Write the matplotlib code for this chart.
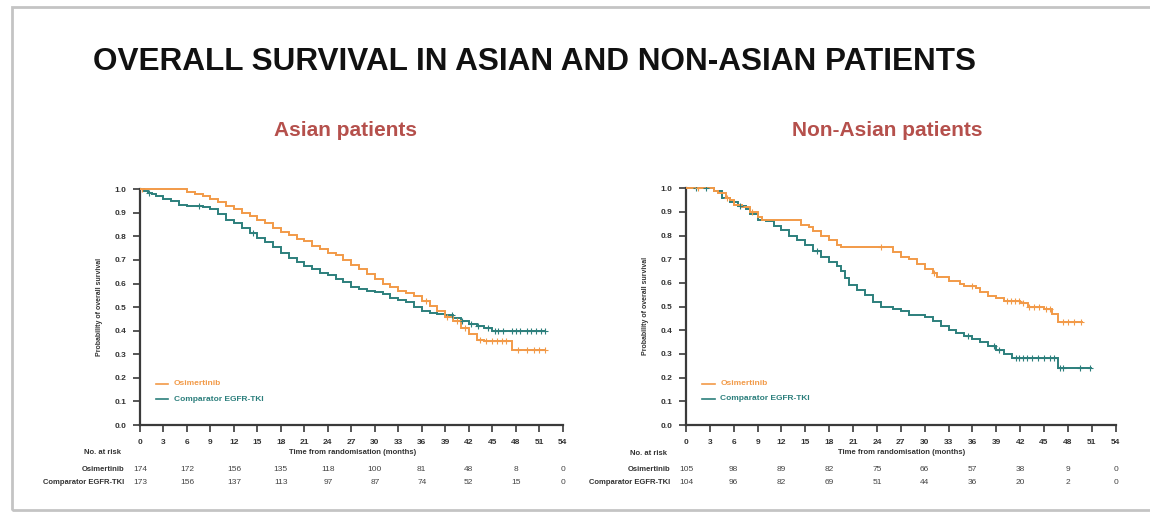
import numpy as np
import matplotlib
matplotlib.use("Agg")
import matplotlib.pyplot as plt
from matplotlib.patches import Rectangle
from matplotlib.transforms import blended_transform_factory

plt.rcParams['font.family'] = ['Liberation Sans', 'DejaVu Sans']

# ---------------- data ----------------
title = "OVERALL SURVIVAL IN ASIAN AND NON-ASIAN PATIENTS"
panel_titles = ["Asian patients", "Non-Asian patients"]
series_names = ["Osimertinib", "Comparator EGFR-TKI"]
x_ticks = list(range(0, 55, 3))
risk_months = [0, 6, 12, 18, 24, 30, 36, 42, 48, 54]

# Asian patients
asian_osi_t = [0, 6, 7, 8, 9, 10, 11, 12, 13, 14, 15, 16, 17, 18, 19, 20, 21, 22, 23, 24,
               25, 26, 27, 28, 29, 30, 31, 32, 33, 34, 35, 36, 37, 38, 39, 40, 41, 42, 43, 44, 47.5]
asian_osi_s = [1.0, 0.99, 0.98, 0.97, 0.96, 0.945, 0.93, 0.915, 0.90, 0.885, 0.87, 0.855, 0.835,
               0.82, 0.805, 0.79, 0.78, 0.76, 0.745, 0.73, 0.72, 0.70, 0.68, 0.66, 0.64, 0.62,
               0.60, 0.585, 0.57, 0.56, 0.545, 0.525, 0.505, 0.485, 0.46, 0.44, 0.41, 0.385,
               0.36, 0.355, 0.316]
asian_osi_c = [0.3, 36.5, 39.2, 40.5, 41.5, 43.5, 44.2, 45.0, 45.6, 46.2, 46.8, 48.3, 49.4, 50.3, 51.0, 51.7]

asian_cmp_t = [0, 0.5, 1, 1.5, 2, 3, 4, 5, 6, 8, 9, 10, 11, 12, 13, 14, 15, 16, 17, 18, 19, 20,
               21, 22, 23, 24, 25, 26, 27, 28, 29, 30, 31, 32, 33, 34, 35, 36, 37, 38, 39, 40,
               41, 42, 43, 44, 45]
asian_cmp_s = [1.0, 0.994, 0.985, 0.978, 0.97, 0.96, 0.948, 0.935, 0.93, 0.925, 0.915, 0.895,
               0.87, 0.855, 0.835, 0.815, 0.795, 0.775, 0.755, 0.73, 0.71, 0.69, 0.675, 0.66,
               0.645, 0.635, 0.62, 0.605, 0.585, 0.575, 0.57, 0.565, 0.555, 0.54, 0.53, 0.52,
               0.50, 0.485, 0.475, 0.47, 0.465, 0.455, 0.44, 0.43, 0.42, 0.41, 0.40]
asian_cmp_c = [1.2, 7.5, 14.5, 39.8, 41.2, 42.3, 43.2, 44.5, 45.3, 45.8, 46.4, 47.5, 48.0,
               48.6, 49.4, 50.0, 50.6, 51.2, 51.8]

asian_risk_osi = [174, 172, 156, 135, 118, 100, 81, 48, 8, 0]
asian_risk_cmp = [173, 156, 137, 113, 97, 87, 74, 52, 15, 0]

# Non-Asian patients
nonasian_osi_t = [0, 3.5, 4, 5, 5.5, 6, 7, 8, 9, 9.5, 14.5, 15.5, 16, 17, 18, 19, 19.5, 26, 27,
                  28, 29, 30, 31, 31.5, 33, 34.5, 35, 36.5, 37, 38, 39, 40, 42, 43, 45, 46, 46.8]
nonasian_osi_s = [1.0, 0.99, 0.98, 0.96, 0.95, 0.93, 0.92, 0.90, 0.88, 0.865, 0.845, 0.835,
                  0.82, 0.80, 0.78, 0.76, 0.75, 0.73, 0.71, 0.70, 0.68, 0.66, 0.64, 0.625,
                  0.61, 0.595, 0.585, 0.58, 0.56, 0.545, 0.535, 0.525, 0.515, 0.50, 0.49,
                  0.47, 0.437]
nonasian_osi_c = [1.5, 5.2, 8.3, 24.5, 31.2, 36.0, 40.3, 40.9, 41.4, 41.9, 42.4, 43.1, 43.7,
                  44.4, 45.2, 45.8, 47.4, 48.0, 48.8, 49.6]

nonasian_cmp_t = [0, 3.5, 4.5, 5.5, 6.5, 7.5, 8, 9, 10, 11, 12, 13, 14, 15, 16, 17, 18, 19,
                  19.5, 20, 20.5, 21.5, 22.5, 23.5, 24.5, 26, 27, 28, 30, 31, 32, 33, 34, 35,
                  36, 37, 38, 39, 40, 41, 46.7]
nonasian_cmp_s = [1.0, 0.99, 0.96, 0.94, 0.925, 0.91, 0.89, 0.865, 0.86, 0.84, 0.825, 0.80,
                  0.78, 0.76, 0.735, 0.71, 0.69, 0.67, 0.65, 0.62, 0.59, 0.57, 0.55, 0.52,
                  0.50, 0.49, 0.48, 0.465, 0.455, 0.44, 0.42, 0.40, 0.39, 0.375, 0.365, 0.35,
                  0.335, 0.315, 0.30, 0.285, 0.24]
nonasian_cmp_c = [1.2, 2.5, 6.8, 16.5, 35.5, 38.7, 39.3, 41.5, 41.9, 42.3, 42.8, 43.5, 44.3,
                  45.0, 45.8, 46.3, 47.0, 47.4, 49.5, 50.8]

nonasian_risk_osi = [105, 98, 89, 82, 75, 66, 57, 38, 9, 0]
nonasian_risk_cmp = [104, 96, 82, 69, 51, 44, 36, 20, 2, 0]

# ---------------- styles ----------------
ORANGE = '#F29A48'
TEAL = '#2C7F7C'
RED = '#B5504C'
AX_COL = '#3a3a3a'

fig = plt.figure(figsize=(11.5, 5.13), dpi=100)
fig.patch.set_facecolor('white')

# slide frame
fig.add_artist(Rectangle((12 / 1150, 1 - 510 / 513), 1.2, (510 - 7) / 513,
                         transform=fig.transFigure, fill=False,
                         edgecolor='#c4c4c4', linewidth=2.0))

fig.text(93 / 1150, 1 - 62 / 513, title, fontsize=22.7, fontweight='bold',
         ha='left', va='center', color='#111111')


def step_value(t, s, x):
    idx = np.searchsorted(np.asarray(t), np.asarray(x), side='right') - 1
    return np.asarray(s)[idx]


def km(ax, t, s, c, color, tend):
    tt = list(t) + [tend]
    ss = list(s) + [s[-1]]
    ax.step(tt, ss, where='post', color=color, lw=1.4, solid_joinstyle='miter', zorder=3)
    ax.plot(c, step_value(t, s, c), ls='none', marker='+', ms=4, mew=0.8,
            color=color, zorder=4)


panels = [
    dict(pos=[140 / 1150, 1 - 425 / 513, 425 / 1150, 237 / 513],
         osi=(asian_osi_t, asian_osi_s, asian_osi_c, 51.8),
         cmp=(asian_cmp_t, asian_cmp_s, asian_cmp_c, 51.8),
         risk=(asian_risk_osi, asian_risk_cmp), title_x=345),
    dict(pos=[686 / 1150, 1 - 425 / 513, 432 / 1150, 238 / 513],
         osi=(nonasian_osi_t, nonasian_osi_s, nonasian_osi_c, 49.8),
         cmp=(nonasian_cmp_t, nonasian_cmp_s, nonasian_cmp_c, 50.9),
         risk=(nonasian_risk_osi, nonasian_risk_cmp), title_x=887),
]

for i, p in enumerate(panels):
    ax = fig.add_axes(p['pos'])
    km(ax, *p['cmp'][:3], TEAL, p['cmp'][3])
    km(ax, *p['osi'][:3], ORANGE, p['osi'][3])
    ax.set_xlim(0, 54.3)
    ax.set_ylim(0, 1.005)
    for sp in ['top', 'right']:
        ax.spines[sp].set_visible(False)
    for sp in ['left', 'bottom']:
        ax.spines[sp].set_color(AX_COL)
        ax.spines[sp].set_linewidth(1.6)
    ax.spines['left'].set_bounds(0, 1.0)
    ax.spines['bottom'].set_bounds(0, 54)
    ax.set_xticks(x_ticks)
    ax.set_xticklabels([str(v) for v in x_ticks])
    ax.set_yticks(np.round(np.arange(0, 1.01, 0.1), 1))
    ax.set_yticklabels([f"{v:.1f}" for v in np.arange(0, 1.01, 0.1)])
    ax.tick_params(axis='both', direction='out', color=AX_COL, width=1.2, length=5,
                   labelsize=6, labelcolor='#333333', pad=5)
    for lab in ax.get_xticklabels() + ax.get_yticklabels():
        lab.set_fontweight('bold')
    ax.set_ylabel("Probability of overall survival", fontsize=5, fontweight='bold',
                  color='#333333', labelpad=8)
    ax.text(0.5, -0.115, "Time from randomisation (months)", transform=ax.transAxes,
            ha='center', va='center', fontsize=5.5, fontweight='bold', color='#333333')

    # legend
    ax.plot([2.0, 3.6], [0.175, 0.175], color=ORANGE, lw=1.2)
    ax.text(4.3, 0.175, series_names[0], color=ORANGE, fontsize=6, fontweight='bold',
            va='center', ha='left')
    ax.plot([2.0, 3.6], [0.11, 0.11], color=TEAL, lw=1.2)
    ax.text(4.3, 0.11, series_names[1], color=TEAL, fontsize=6, fontweight='bold',
            va='center', ha='left')

    # number at risk
    tr = blended_transform_factory(ax.transData, ax.transAxes)
    ax.text(-2.4, -0.118, "No. at risk", transform=tr, ha='right', va='center',
            fontsize=5.5, fontweight='bold', color='#333333')
    for row, (name, vals) in enumerate(zip(series_names, p['risk'])):
        yy = -0.186 - row * 0.055
        ax.text(-2.0, yy, name, transform=tr, ha='right', va='center', fontsize=5.5,
                fontweight='bold', color='#333333')
        for m, v in zip(risk_months, vals):
            ax.text(m, yy, str(v), transform=tr, ha='center', va='center', fontsize=6,
                    color='#444444')

    fig.text(p['title_x'] / 1150, 1 - 131 / 513, panel_titles[i], fontsize=15,
             fontweight='bold', color=RED, ha='center', va='center')

fig.savefig("out.png", dpi=100, facecolor='white')
